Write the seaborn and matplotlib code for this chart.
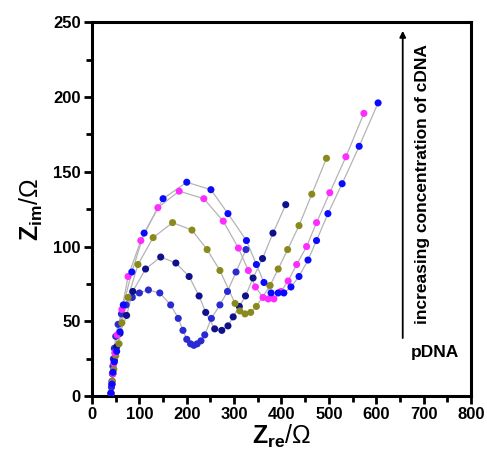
import numpy as np
import pandas as pd
import matplotlib
matplotlib.use('Agg')
import matplotlib.pyplot as plt
from matplotlib.ticker import MultipleLocator
import seaborn as sns

# Nyquist data (Z_re, Z_im in Ohm), lowest curve first
zre_pdna = [40, 41, 42, 43, 44, 45, 47, 50, 55, 62, 72, 85, 100, 119, 143, 166, 182, 192,
            200, 208, 215, 222, 230, 238, 252, 270, 286, 304, 325]
zim_pdna = [2, 6, 10, 15, 20, 25, 32, 40, 48, 55, 61, 66, 69, 71, 69, 61, 52, 44,
            38, 35, 34, 35, 37, 41, 52, 61, 70, 83, 98]

zre_c1 = [40, 42, 44, 47, 52, 59, 73, 86, 113, 145, 177, 205, 226, 240, 259, 274, 287,
          298, 311, 324, 340, 360, 382, 409]
zim_c1 = [2, 8, 15, 24, 33, 42, 54, 70, 85, 93, 89, 80, 67, 56, 45, 44, 47,
          53, 60, 67, 79, 92, 109, 128]

zre_c2 = [40, 43, 46, 50, 57, 63, 76, 97, 129, 170, 211, 243, 270, 302, 312, 323, 335,
          347, 376, 393, 413, 437, 464, 495]
zim_c2 = [2, 10, 18, 27, 35, 49, 66, 88, 106, 116, 111, 98, 84, 62, 57, 55, 56,
          60, 74, 85, 98, 114, 135, 159]

zre_c3 = [40, 42, 44, 46, 48, 53, 63, 76, 103, 139, 184, 236, 277, 309, 330, 345, 361,
          372, 384, 399, 414, 432, 453, 474, 502, 536, 574]
zim_c3 = [2, 8, 15, 22, 29, 41, 58, 80, 104, 126, 137, 132, 117, 99, 84, 73, 66,
          65, 65, 70, 77, 88, 100, 116, 136, 160, 189]

zre_c4 = [40, 42, 44, 47, 52, 59, 66, 84, 110, 150, 200, 251, 287, 326, 347, 363, 378,
          393, 405, 420, 437, 456, 474, 498, 528, 564, 604]
zim_c4 = [2, 8, 16, 23, 30, 43, 61, 83, 109, 132, 143, 138, 122, 104, 88, 76, 69,
          69, 69, 73, 80, 91, 104, 122, 142, 167, 196]

series_names = ['pDNA', 'c1', 'c2', 'c3', 'c4']
series_colors = ['#2a2ad2', '#10108a', '#8a8a1c', '#ff2cff', '#0a0aff']

frames = []
for name, xs, ys in zip(series_names,
                        [zre_pdna, zre_c1, zre_c2, zre_c3, zre_c4],
                        [zim_pdna, zim_c1, zim_c2, zim_c3, zim_c4]):
    frames.append(pd.DataFrame({'zre': xs, 'zim': ys, 'series': name}))
df = pd.concat(frames, ignore_index=True)

sns.set_style('ticks', {'axes.edgecolor': 'black', 'text.color': 'black',
                        'xtick.color': 'black', 'ytick.color': 'black',
                        'axes.labelcolor': 'black'})
plt.rcParams['font.family'] = ['Liberation Sans', 'DejaVu Sans']
plt.rcParams['mathtext.fontset'] = 'custom'
plt.rcParams['mathtext.bf'] = 'Liberation Sans:bold'
plt.rcParams['mathtext.rm'] = 'Liberation Sans:bold'

fig = plt.figure(figsize=(4.87, 4.70), dpi=100)
ax = fig.add_axes([0.189, 0.157, 0.778, 0.796])

# grey connecting lines, then coloured dots on top
sns.lineplot(data=df, x='zre', y='zim', units='series', estimator=None, sort=False,
             color='#b4b4b4', linewidth=0.9, ax=ax, legend=False)
sns.scatterplot(data=df, x='zre', y='zim', hue='series', hue_order=series_names,
                palette=series_colors, s=26, linewidth=0, ax=ax, legend=False, zorder=3)

ax.set_xlim(0, 800)
ax.set_ylim(0, 250)
ax.xaxis.set_major_locator(MultipleLocator(100))
ax.xaxis.set_minor_locator(MultipleLocator(50))
ax.yaxis.set_major_locator(MultipleLocator(50))
ax.yaxis.set_minor_locator(MultipleLocator(25))
ax.tick_params(which='major', direction='out', length=6, width=2, labelsize=12, pad=2,
               colors='black')
ax.tick_params(which='minor', direction='out', length=4, width=2, colors='black')
for lab in ax.get_xticklabels() + ax.get_yticklabels():
    lab.set_fontweight('bold')
for sp in ax.spines.values():
    sp.set_linewidth(2.2)
    sp.set_color('black')
    sp.set_visible(True)

ax.set_xlabel(r'$\mathbf{Z_{re}}$/Ω', fontsize=18, labelpad=0, color='black')
ax.set_ylabel(r'$\mathbf{Z_{im}}$/Ω', fontsize=18, labelpad=6, color='black')

# annotation: arrow and text
ax.annotate('', xy=(656, 246), xytext=(656, 37),
            arrowprops=dict(arrowstyle='-|>', color='black', lw=1.3, mutation_scale=9))
ax.text(697, 142, 'increasing concentration of cDNA', rotation=90, ha='center', va='center',
        fontsize=12.5, fontweight='bold', color='black')
ax.text(724, 29, 'pDNA', ha='center', va='center', fontsize=12.5, fontweight='bold',
        color='black')

fig.savefig('out.png', dpi=100)
